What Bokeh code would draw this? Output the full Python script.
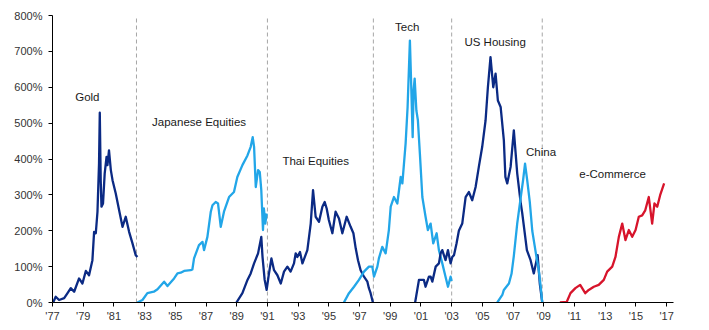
from bokeh.plotting import figure
from bokeh.models import Range1d, FixedTicker, ColumnDataSource
from bokeh.core.properties import value
from bokeh.embed import file_html
from bokeh.resources import INLINE

# ---- data (years as decimal, values in % gain) ----
gold_t = [1977.04, 1977.21, 1977.43, 1977.76, 1977.98, 1978.19, 1978.41, 1978.73, 1978.95, 1979.17, 1979.38,
          1979.60, 1979.71, 1979.82, 1979.93, 1980.03, 1980.08, 1980.14, 1980.19, 1980.29, 1980.40,
          1980.52, 1980.58, 1980.68, 1980.80, 1980.91, 1981.12, 1981.34, 1981.56, 1981.77, 1981.99,
          1982.21, 1982.42, 1982.53]
gold_v = [0, 16, 7, 12, 26, 40, 30, 67, 53, 88, 76, 118, 197, 193, 253, 387, 529, 341, 267, 276, 360,
          406, 383, 424, 369, 341, 304, 257, 211, 239, 197, 165, 132, 127]

japan_t = [1982.53, 1982.86, 1983.18, 1983.60, 1983.84, 1984.27, 1984.49, 1984.92, 1985.14, 1985.35,
           1985.57, 1986.00, 1986.11, 1986.22, 1986.54, 1986.77, 1986.87, 1987.09, 1987.31, 1987.42,
           1987.63, 1987.78, 1987.96, 1988.17, 1988.50, 1988.82, 1989.04, 1989.37, 1989.70, 1989.91,
           1990.04, 1990.13, 1990.24, 1990.39, 1990.50, 1990.60, 1990.71, 1990.77, 1990.86, 1990.95]
japan_v = [0, 7, 26, 30, 37, 58, 46, 67, 81, 83, 88, 90, 92, 123, 160, 169, 146, 183, 253, 271,
           280, 276, 211, 253, 294, 308, 350, 383, 410, 434, 461, 434, 322, 369, 364, 313, 202, 262, 220, 248]

thai_t = [1988.98, 1989.37, 1989.70, 1989.91, 1990.13, 1990.39, 1990.60, 1990.68, 1990.82, 1990.95,
          1991.10, 1991.26, 1991.43, 1991.65, 1991.87, 1992.08, 1992.30, 1992.51, 1992.73, 1992.84,
          1992.95, 1993.12, 1993.28, 1993.60, 1993.82, 1993.97, 1994.14, 1994.36, 1994.58, 1994.73,
          1994.86, 1995.00, 1995.23, 1995.44, 1995.66, 1995.88, 1996.16, 1996.42, 1996.60, 1996.75,
          1996.90, 1997.07, 1997.29, 1997.51, 1997.61, 1997.72, 1997.87]
thai_v = [0, 26, 63, 81, 109, 137, 183, 127, 63, 35, 81, 123, 90, 76, 53, 86, 100, 86, 109, 137,
          127, 141, 109, 146, 220, 313, 239, 225, 267, 280, 262, 230, 193, 253, 234, 193, 239, 211,
          193, 151, 118, 90, 72, 58, 40, 26, 0]

tech_t = [1995.98, 1996.31, 1996.64, 1996.96, 1997.29, 1997.61, 1997.83, 1997.94, 1998.16, 1998.26,
          1998.48, 1998.70, 1998.91, 1999.03, 1999.24, 1999.46, 1999.68, 1999.79, 2000.00, 2000.13,
          2000.28, 2000.35, 2000.46, 2000.52, 2000.59, 2000.70, 2000.80, 2000.93, 2001.09, 2001.30,
          2001.45, 2001.63, 2001.80, 2002.02, 2002.17, 2002.39, 2002.60, 2002.76, 2002.93, 2003.00]
tech_v = [0, 26, 44, 63, 86, 100, 100, 72, 100, 123, 155, 137, 202, 267, 294, 276, 350, 332, 443, 545,
          730, 628, 461, 591, 624, 536, 508, 415, 294, 239, 202, 220, 165, 193, 146, 109, 72, 44, 72, 60]

house_t = [2000.62, 2000.87, 2001.19, 2001.30, 2001.52, 2001.63, 2001.74, 2001.96, 2002.17, 2002.28,
           2002.39, 2002.60, 2002.76, 2002.93, 2003.04, 2003.15, 2003.32, 2003.47, 2003.69, 2003.91,
           2004.12, 2004.34, 2004.56, 2004.77, 2004.99, 2005.21, 2005.36, 2005.53, 2005.71, 2005.86,
           2006.01, 2006.19, 2006.40, 2006.50, 2006.62, 2006.84, 2007.05, 2007.27, 2007.49, 2007.60,
           2007.90, 2008.14, 2008.35, 2008.60, 2008.74, 2008.90]
house_v = [0, 63, 63, 44, 72, 72, 58, 100, 109, 137, 146, 118, 146, 109, 127, 132, 165, 200, 220, 294,
           308, 285, 322, 378, 434, 508, 600, 684, 600, 638, 563, 545, 452, 350, 332, 378, 480, 360,
           280, 248, 146, 118, 81, 132, 53, 0]

china_t = [2005.97, 2006.30, 2006.40, 2006.73, 2006.90, 2007.05, 2007.27, 2007.49, 2007.65, 2007.78,
           2007.92, 2008.09, 2008.25, 2008.40, 2008.55, 2008.66, 2008.80, 2008.90]
china_v = [0, 21, 35, 53, 80, 130, 220, 290, 340, 387, 341, 280, 200, 160, 120, 95, 44, 0]

ecom_t = [2010.05, 2010.50, 2010.74, 2011.06, 2011.37, 2011.70, 2011.93, 2012.26, 2012.58, 2012.91,
          2013.13, 2013.46, 2013.67, 2013.89, 2014.11, 2014.32, 2014.54, 2014.76, 2014.98, 2015.19,
          2015.41, 2015.61, 2015.84, 2016.06, 2016.21, 2016.39, 2016.58, 2016.84]
ecom_v = [0, 2, 26, 40, 49, 26, 35, 44, 49, 63, 86, 100, 127, 183, 220, 174, 202, 183, 202, 239,
          243, 257, 294, 220, 276, 267, 299, 332]

dividers = [1982.47, 1991.0, 1997.9, 2003.0, 2008.9]

labels = ["Gold", "Japanese  Equities", "Thai Equities", "Tech", "US Housing", "China", "e-Commerce"]
label_t = [1979.27, 1986.65, 1994.14, 2000.10, 2005.83, 2008.82, 2013.48]
label_v = [572, 502, 394, 769, 727, 419, 357]

tick_years = list(range(1977, 2018, 2))
tick_labels = {y: "'" + str(y)[2:] for y in tick_years}
y_ticks = list(range(0, 801, 100))

NAVY = "#0b2a84"
LIGHT = "#22a6e8"
RED = "#d7142b"

p = figure(width=709, height=330, output_backend="svg", toolbar_location=None,
           x_range=Range1d(1977, 2017.45), y_range=Range1d(0, 800),
           min_border_left=52, min_border_right=36, min_border_top=15, min_border_bottom=28)
p.outline_line_color = None
p.xgrid.visible = False
p.ygrid.visible = False
p.background_fill_color = "white"
p.border_fill_color = "white"

# dividers
p.segment(x0=dividers, y0=[0] * len(dividers), x1=dividers, y1=[800] * len(dividers),
          line_color="#a6a6a6", line_dash="4 3", line_width=1)

lw = 2.3
p.line(gold_t, gold_v, line_color=NAVY, line_width=lw, line_join="round")
p.line(japan_t, japan_v, line_color=LIGHT, line_width=lw, line_join="round")
p.line(thai_t, thai_v, line_color=NAVY, line_width=lw, line_join="round")
p.line(tech_t, tech_v, line_color=LIGHT, line_width=lw, line_join="round")
p.line(house_t, house_v, line_color=NAVY, line_width=lw, line_join="round")
p.line(china_t, china_v, line_color=LIGHT, line_width=lw, line_join="round")
p.line(ecom_t, ecom_v, line_color=RED, line_width=lw, line_join="round")

src = ColumnDataSource(dict(x=label_t, y=label_v, t=labels))
p.text(x="x", y="y", text="t", source=src, text_align="center", text_baseline="middle",
       text_font=value("Liberation Sans"), text_font_size="11.5px", text_color="#1a1a1a")

for ax in (p.xaxis[0], p.yaxis[0]):
    ax.axis_line_color = "#000000"
    ax.major_tick_line_color = "#000000"
    ax.minor_tick_line_color = None
    ax.major_tick_in = 0
    ax.major_tick_out = 4
    ax.major_label_text_font = "Liberation Sans"
    ax.major_label_text_font_size = "11px"
    ax.major_label_text_color = "#333333"

p.xaxis.ticker = FixedTicker(ticks=tick_years)
p.xaxis.major_label_overrides = tick_labels
p.xaxis.major_label_standoff = 3
p.yaxis.ticker = FixedTicker(ticks=y_ticks)
p.yaxis.major_label_overrides = {v: f"{v}%" for v in y_ticks}
p.yaxis.major_label_standoff = 6

open("out.html", "w").write(file_html(p, INLINE))
